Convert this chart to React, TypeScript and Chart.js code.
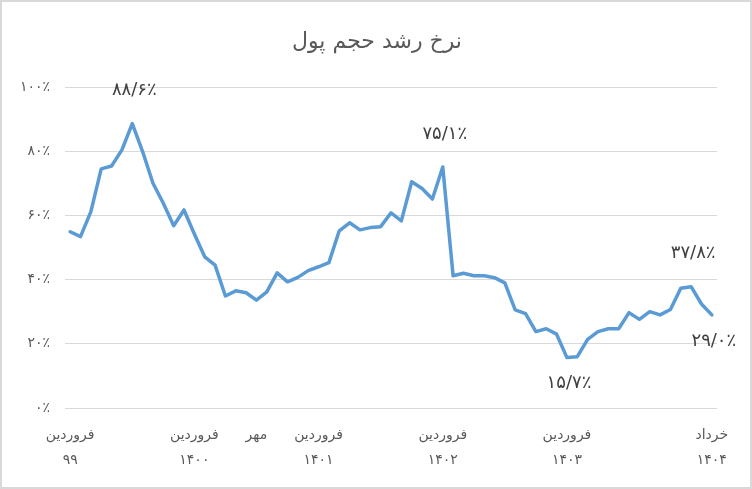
import React, { useEffect, useRef } from "react";
import { Chart, registerables } from "chart.js";

Chart.register(...registerables);

// money supply growth rate, monthly, Farvardin 99 .. Khordad 1404 (percent)
const growthRate = [
  54.9, 53.4, 61.2, 74.5, 75.4, 80.4, 88.6, 79.9, 70.0, 63.8, 56.8, 61.7,
  54.2, 47.1, 44.5, 34.9, 36.5, 35.9, 33.6, 36.2, 42.1, 39.3, 40.7, 42.8,
  44.0, 45.3, 55.2, 57.7, 55.5, 56.2, 56.5, 60.8, 58.3, 70.5, 68.4, 65.1,
  75.1, 41.2, 42.0, 41.2, 41.2, 40.6, 39.0, 30.6, 29.4, 23.8, 24.7, 23.0,
  15.7, 16.0, 21.4, 23.8, 24.7, 24.7, 29.7, 27.6, 30.0, 29.0, 30.7, 37.3,
  37.8, 32.4, 29.0,
];

const months = [
  "فروردین", "اردیبهشت", "خرداد", "تیر", "مرداد", "شهریور",
  "مهر", "آبان", "آذر", "دی", "بهمن", "اسفند",
];
const years = ["۹۹", "۱۴۰۰", "۱۴۰۱", "۱۴۰۲", "۱۴۰۳", "۱۴۰۴"];

// which categories get an axis label
const fullTicks = [0, 12, 24, 36, 48, 62];
const monthOnlyTicks = [18];

const yTicks = [0, 20, 40, 60, 80, 100];

// annotated points
const labelledPoints = [6, 36, 48, 60, 62];
const labelsBelow = [48, 62];

const FONT = "'DejaVu Sans', sans-serif";

const toFa = (s: string) => s.replace(/[0-9]/g, (d) => "۰۱۲۳۴۵۶۷۸۹"[+d]);

const categories = growthRate.map(
  (_, i) => `${months[i % 12]} ${years[Math.floor(i / 12)]}`
);

export default function App() {
  const canvasRef = useRef<HTMLCanvasElement | null>(null);
  const chartRef = useRef<Chart | null>(null);

  useEffect(() => {
    const ctx = canvasRef.current?.getContext("2d");
    if (!ctx) return;
    if (chartRef.current) chartRef.current.destroy();

    const frame = {
      id: "frame",
      beforeDraw: (chart: Chart) => {
        const c = chart.ctx;
        c.save();
        c.fillStyle = "#ffffff";
        c.fillRect(0, 0, chart.width, chart.height);
        c.strokeStyle = "#d9d9d9";
        c.lineWidth = 2;
        c.strokeRect(1, 1, chart.width - 2, chart.height - 2);
        // title
        c.fillStyle = "#595959";
        c.font = `22px ${FONT}`;
        c.textAlign = "center";
        c.textBaseline = "middle";
        c.fillText("نرخ رشد حجم پول", 377, 42);
        c.restore();
      },
    };

    const pointLabels = {
      id: "pointLabels",
      afterDatasetsDraw: (chart: Chart) => {
        const c = chart.ctx;
        const meta = chart.getDatasetMeta(0);
        c.save();
        c.fillStyle = "#404040";
        c.font = `18px ${FONT}`;
        c.textAlign = "center";
        c.textBaseline = "middle";
        labelledPoints.forEach((i) => {
          const pt = meta.data[i];
          const below = labelsBelow.includes(i);
          const txt = toFa(growthRate[i].toFixed(1)).replace(".", "/") + "٪";
          c.fillText(txt, pt.x + 2, pt.y + (below ? 26 : -33));
        });
        c.restore();
      },
    };

    chartRef.current = new Chart(ctx, {
      type: "line",
      data: {
        labels: categories,
        datasets: [
          {
            label: "نرخ رشد حجم پول",
            data: growthRate,
            borderColor: "#5B9BD5",
            borderWidth: 3.5,
            pointRadius: 0,
            tension: 0,
            borderJoinStyle: "round",
            borderCapStyle: "round",
          },
        ],
      },
      options: {
        responsive: false,
        animation: false,
        layout: { padding: { top: 87, right: 35, bottom: 0, left: 0 } },
        plugins: {
          legend: { display: false },
          title: { display: false },
          tooltip: { enabled: false },
        },
        scales: {
          x: {
            offset: true,
            grid: { display: false, drawTicks: false },
            border: { display: false },
            afterFit: (scale: any) => {
              scale.height = 81;
            },
            ticks: {
              autoSkip: false,
              maxRotation: 0,
              minRotation: 0,
              padding: 14,
              color: "#595959",
              font: { family: FONT, size: 14, lineHeight: 1.85 },
              callback: (_v: any, i: number) => {
                if (fullTicks.includes(i))
                  return [months[i % 12], years[Math.floor(i / 12)]];
                if (monthOnlyTicks.includes(i)) return [months[i % 12]];
                return "";
              },
            },
          },
          y: {
            min: yTicks[0],
            max: yTicks[yTicks.length - 1],
            afterFit: (scale: any) => {
              scale.width = 65;
            },
            afterBuildTicks: (scale: any) => {
              scale.ticks = yTicks.map((v) => ({ value: v }));
            },
            grid: { color: "#d9d9d9", lineWidth: 1, drawTicks: false },
            border: { display: false },
            ticks: {
              padding: 15,
              color: "#595959",
              font: { family: FONT, size: 14 },
              callback: (v: any) => toFa(String(v)) + "٪",
            },
          },
        },
      },
      plugins: [frame, pointLabels],
    });

    return () => {
      if (chartRef.current) {
        chartRef.current.destroy();
        chartRef.current = null;
      }
    };
  }, []);

  return (
    <div style={{ position: "fixed", left: 0, top: 0, width: 752, height: 489 }}>
      <canvas
        ref={canvasRef}
        width={752}
        height={489}
        role="img"
        aria-label="نرخ رشد حجم پول"
      />
    </div>
  );
}
